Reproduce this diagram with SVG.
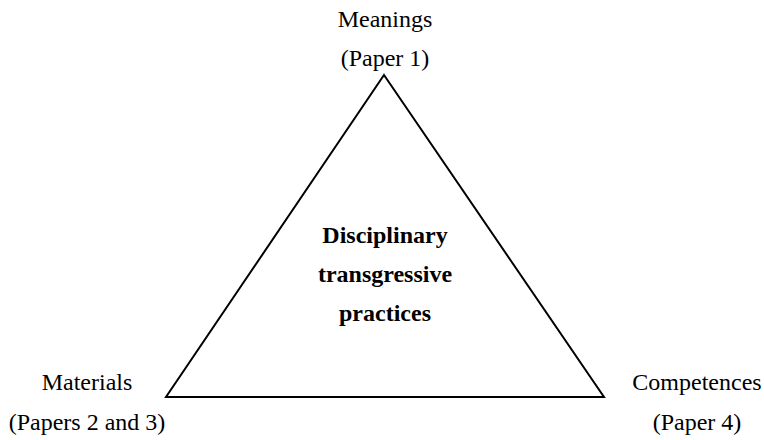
<svg xmlns="http://www.w3.org/2000/svg" width="764" height="440" viewBox="0 0 764 440">
<style>
text{font-family:"Liberation Serif","Times New Roman",Times,serif;font-size:24px;fill:#000;text-anchor:middle}
.b{font-weight:bold}
.edge{fill:none;stroke:#000;stroke-width:2;stroke-linejoin:miter}
</style>
<rect width="764" height="440" fill="#fff"/>
<g id="connectors">
<path class="edge" d="M384,75 L604,397 L166,397 Z"/>
</g>
<g id="meanings">
<text x="385" y="27">Meanings</text>
<text x="385" y="66">(Paper 1)</text>
</g>
<g id="materials">
<text x="87" y="390">Materials</text>
<text x="87" y="430">(Papers 2 and 3)</text>
</g>
<g id="competences">
<text x="697" y="390">Competences</text>
<text x="697" y="430">(Paper 4)</text>
</g>
<g id="center">
<text class="b" x="385" y="243">Disciplinary</text>
<text class="b" x="385" y="282">transgressive</text>
<text class="b" x="385" y="321">practices</text>
</g>
</svg>
